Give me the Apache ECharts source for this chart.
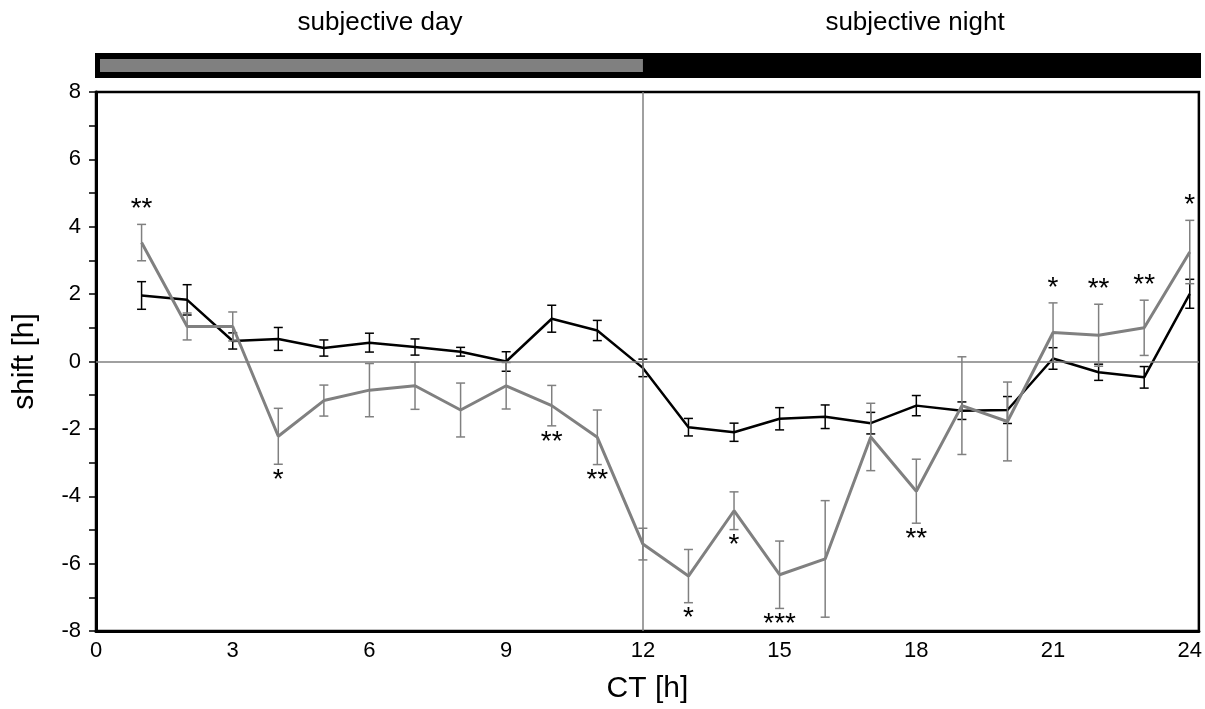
<!DOCTYPE html>
<html>
<head>
<meta charset="utf-8">
<title>shift vs CT</title>
<script src="https://cdn.jsdelivr.net/npm/echarts@6/dist/echarts.min.js"></script>
<style>
html,body{margin:0;padding:0;background:#fff}
#main{width:1205px;height:709px}
</style>
</head>
<body>
<div id="main"></div>
<script>
// circadian time points
var hours = [1,2,3,4,5,6,7,8,9,10,11,12,13,14,15,16,17,18,19,20,21,22,23,24];
// black curve: mean and error
var blackShift = [1.96,1.83,0.61,0.67,0.40,0.56,0.43,0.29,0.00,1.27,0.92,-0.19,-1.95,-2.10,-1.70,-1.64,-1.83,-1.31,-1.46,-1.44,0.09,-0.32,-0.47,2.01];
var blackErr   = [0.41,0.45,0.24,0.34,0.24,0.28,0.24,0.13,0.29,0.40,0.30,0.26,0.26,0.27,0.33,0.35,0.32,0.30,0.26,0.40,0.32,0.24,0.32,0.43];
// gray curve: mean and error
var grayShift = [3.53,1.04,1.04,-2.22,-1.16,-0.85,-0.72,-1.44,-0.72,-1.31,-2.25,-5.42,-6.37,-4.43,-6.33,-5.86,-2.24,-3.85,-1.31,-1.78,0.86,0.78,1.00,3.25];
var grayErr   = [0.54,0.40,0.43,0.83,0.46,0.79,0.70,0.80,0.69,0.60,0.81,0.47,0.79,0.56,1.00,1.73,1.00,0.95,1.45,1.17,0.88,0.92,0.82,0.94];
// significance marks on the gray curve
var stars   = ['**','','','*','','','','','','**','**','','*','*','***','','','**','','','*','**','**','*'];
var starPos = ['top','','','bottom','','','','','','bottom','bottom','','bottom','bottom','bottom','','','bottom','','','top','top','top','top'];
// light bar on top
var periods = [[0,12,'day'],[12,24.2,'night']];
var xTicks = [0,3,6,9,12,15,18,21,24];

var chart = echarts.init(document.getElementById('main'));
var FONT = 'Liberation Sans, Arial, sans-serif';

function errData(vals, errs) {
    return hours.map(function (h, i) {
        return [h, vals[i] - errs[i], vals[i] + errs[i], i];
    });
}

function errBars(color, withStars) {
    return function (params, api) {
        var x = api.value(0);
        var lo = api.coord([x, api.value(1)]);
        var hi = api.coord([x, api.value(2)]);
        var i = api.value(3);
        var w = 4.5;
        var st = {stroke: color, lineWidth: 1.5};
        var kids = [
            {type: 'line', shape: {x1: lo[0], y1: lo[1], x2: hi[0], y2: hi[1]}, style: st},
            {type: 'line', shape: {x1: lo[0] - w, y1: lo[1], x2: lo[0] + w, y2: lo[1]}, style: st},
            {type: 'line', shape: {x1: hi[0] - w, y1: hi[1], x2: hi[0] + w, y2: hi[1]}, style: st}
        ];
        if (withStars && stars[i]) {
            var up = starPos[i] === 'top';
            kids.push({
                type: 'text',
                x: hi[0],
                y: up ? hi[1] - 15 : lo[1] + 16,
                style: {
                    text: stars[i], fill: '#000', font: '28px ' + FONT,
                    textAlign: 'center', textVerticalAlign: 'middle'
                }
            });
        }
        return {type: 'group', children: kids};
    };
}

var option = {
    animation: false,
    backgroundColor: '#fff',
    grid: [
        {left: 96, right: 4, top: 92, bottom: 75, show: true, borderColor: '#000', borderWidth: 2.5, backgroundColor: 'transparent'},
        {left: 96, right: 4, top: 53, height: 25}
    ],
    graphic: [
        {type: 'text', x: 380, y: 23, style: {text: 'subjective day', font: '26px ' + FONT, fill: '#000', textAlign: 'center', textVerticalAlign: 'middle'}},
        {type: 'text', x: 915, y: 23, style: {text: 'subjective night', font: '26px ' + FONT, fill: '#000', textAlign: 'center', textVerticalAlign: 'middle'}}
    ],
    xAxis: [
        {
            type: 'value', gridIndex: 0, min: 0, max: 24.2, interval: 3,
            name: 'CT [h]', nameLocation: 'middle', nameGap: 43,
            nameTextStyle: {fontFamily: FONT, fontSize: 30, color: '#000'},
            axisLine: {show: true, onZero: false, lineStyle: {color: '#000', width: 3}},
            axisTick: {show: false},
            axisLabel: {customValues: xTicks, fontFamily: FONT, fontSize: 22, color: '#000', margin: 9},
            splitLine: {show: false}
        },
        {type: 'value', gridIndex: 1, min: 0, max: 24.2, show: false}
    ],
    yAxis: [
        {
            type: 'value', gridIndex: 0, min: -8, max: 8, interval: 2,
            name: 'shift [h]', nameLocation: 'middle', nameGap: 56,
            nameTextStyle: {fontFamily: FONT, fontSize: 30, color: '#000'},
            axisLine: {show: true, lineStyle: {color: '#000', width: 3}},
            axisTick: {show: true, length: 7, lineStyle: {color: '#000', width: 1.5}},
            minorTick: {show: true, splitNumber: 2, length: 7, lineStyle: {color: '#000', width: 1.5}},
            axisLabel: {fontFamily: FONT, fontSize: 22, color: '#000', margin: 15},
            splitLine: {show: false}
        },
        {type: 'value', gridIndex: 1, min: 0, max: 1, show: false}
    ],
    series: [
        {
            name: 'ref', type: 'line', data: [], z: 1, silent: true,
            markLine: {
                symbol: 'none', silent: true, label: {show: false},
                lineStyle: {color: '#808080', width: 1.5, type: 'solid'},
                data: [{yAxis: 0}, {xAxis: 12}]
            }
        },
        {
            name: 'light', type: 'custom', xAxisIndex: 1, yAxisIndex: 1,
            data: periods.map(function (p) { return [p[0], p[1], p[2] === 'day' ? 1 : 0]; }),
            renderItem: function (params, api) {
                var a = api.coord([api.value(0), 1]);
                var b = api.coord([api.value(1), 0]);
                var kids = [{type: 'rect', shape: {x: a[0] - 1, y: a[1], width: b[0] - a[0] + 1, height: b[1] - a[1]}, style: {fill: '#000'}}];
                if (api.value(2) === 1) {
                    kids.push({type: 'rect', shape: {x: a[0] + 4, y: a[1] + 6, width: b[0] - a[0] - 4, height: b[1] - a[1] - 12}, style: {fill: '#808080'}});
                }
                return {type: 'group', children: kids};
            }
        },
        {
            name: 'black err', type: 'custom', z: 3,
            data: errData(blackShift, blackErr),
            renderItem: errBars('#000', false)
        },
        {
            name: 'black', type: 'line', z: 4, symbol: 'none',
            data: hours.map(function (h, i) { return [h, blackShift[i]]; }),
            lineStyle: {color: '#000', width: 2.5}
        },
        {
            name: 'gray err', type: 'custom', z: 5,
            data: errData(grayShift, grayErr),
            renderItem: errBars('#808080', true)
        },
        {
            name: 'gray', type: 'line', z: 6, symbol: 'none',
            data: hours.map(function (h, i) { return [h, grayShift[i]]; }),
            lineStyle: {color: '#808080', width: 3}
        }
    ]
};
chart.setOption(option);
</script>
</body>
</html>
